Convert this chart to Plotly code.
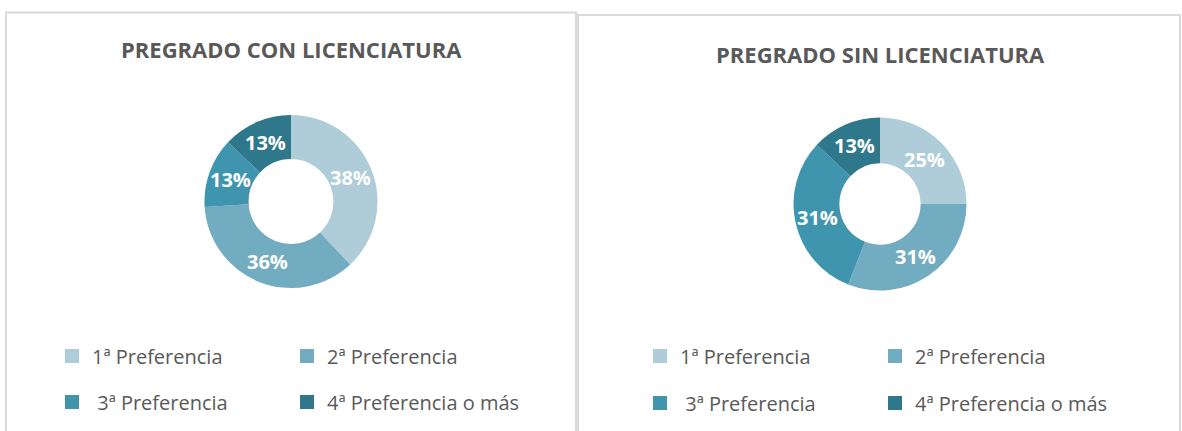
import math
import plotly.graph_objects as go

# ---- data ----
categories = ["1ª Preferencia", "2ª Preferencia", "3ª Preferencia", "4ª Preferencia o más"]
legend_labels = ["1ª Preferencia", "2ª Preferencia", " 3ª Preferencia", "4ª Preferencia o más"]
con_licenciatura = [38, 36, 13, 13]
sin_licenciatura = [25, 31, 31, 13]
panel_titles = ["PREGRADO CON LICENCIATURA", "PREGRADO SIN LICENCIATURA"]

# ---- style ----
W, H = 1182, 431
colors = ["#aecdd9", "#72acc0", "#3f95ad", "#2f778b"]
grey_text = "#595959"
font_family = "Open Sans"


def px_x(x):
    return x / W


def px_y(y):
    return 1 - y / H


fig = go.Figure()

# donut geometry (pixel centres / radii)
donuts = [
    dict(values=con_licenciatura, cx=291, cy=201.5, r=86.5, hole=0.49),
    dict(values=sin_licenciatura, cx=880, cy=204, r=86.5, hole=0.47),
]

annotations = []

for d in donuts:
    fig.add_trace(go.Pie(
        labels=categories,
        values=d["values"],
        hole=d["hole"],
        sort=False,
        direction="clockwise",
        rotation=0,
        textinfo="none",
        marker=dict(colors=colors, line=dict(width=0)),
        showlegend=False,
        hoverinfo="label+percent",
        domain=dict(
            x=[px_x(d["cx"] - d["r"]), px_x(d["cx"] + d["r"])],
            y=[px_y(d["cy"] + d["r"]), px_y(d["cy"] - d["r"])],
        ),
    ))
    # percentage labels, horizontal, centred mid-ring at each slice's mid-angle
    total = sum(d["values"])
    r_mid = d["r"] * (1 + d["hole"]) / 2
    cum = 0
    for v in d["values"]:
        ang = 2 * math.pi * (cum + v / 2) / total
        cum += v
        lx = d["cx"] + r_mid * math.sin(ang)
        ly = d["cy"] - r_mid * math.cos(ang)
        annotations.append(dict(
            text=f"{round(100 * v / total)}%",
            x=px_x(lx), y=px_y(ly), xref="paper", yref="paper",
            xanchor="center", yanchor="middle", showarrow=False,
            font=dict(family=font_family, size=20, color="white", weight="bold"),
        ))

# legends: one horizontal legend per row and panel
legend_rows = [
    # (legend id, category indices, x of first marker centre, y centre)
    ("legend", [0, 1], 72, 356),
    ("legend2", [2, 3], 72, 402),
    ("legend3", [0, 1], 660, 356),
    ("legend4", [2, 3], 660, 403),
]

for lid, idxs, mx, my in legend_rows:
    for i in idxs:
        fig.add_trace(go.Scatter(
            x=[None], y=[None], mode="markers",
            name=legend_labels[i],
            marker=dict(symbol="square", size=14, color=colors[i]),
            legend=lid, showlegend=True, hoverinfo="skip",
        ))

legend_common = dict(
    orientation="h",
    xanchor="left",
    yanchor="middle",
    entrywidth=190,
    entrywidthmode="pixels",
    itemclick=False,
    itemdoubleclick=False,
    bgcolor="rgba(0,0,0,0)",
    font=dict(family=font_family, size=20, color=grey_text),
    itemsizing="trace",
)

layout_legends = {}
for lid, idxs, mx, my in legend_rows:
    layout_legends[lid] = dict(legend_common, x=px_x(mx - 20), y=px_y(my))

# panel frames
shapes = [
    dict(type="rect", xref="paper", yref="paper",
         x0=px_x(6), x1=px_x(576), y0=-0.05, y1=px_y(12.5),
         line=dict(color="#d9d9d9", width=2), layer="below"),
    dict(type="rect", xref="paper", yref="paper",
         x0=px_x(578), x1=px_x(1180), y0=-0.05, y1=px_y(15),
         line=dict(color="#d9d9d9", width=2), layer="below"),
]

annotations += [
    dict(text=panel_titles[0], x=px_x(291), y=px_y(49), xref="paper", yref="paper",
         xanchor="center", yanchor="middle", showarrow=False,
         font=dict(family=font_family, size=22, color=grey_text, weight="bold")),
    dict(text=panel_titles[1], x=px_x(880), y=px_y(54), xref="paper", yref="paper",
         xanchor="center", yanchor="middle", showarrow=False,
         font=dict(family=font_family, size=22, color=grey_text, weight="bold")),
]

fig.update_layout(
    width=W, height=H,
    margin=dict(l=0, r=0, t=0, b=0),
    paper_bgcolor="white",
    plot_bgcolor="white",
    xaxis=dict(visible=False),
    yaxis=dict(visible=False),
    shapes=shapes,
    annotations=annotations,
    **layout_legends,
)

fig.write_html(
    "out.html",
    config={"displayModeBar": False},
    post_script="document.body.style.margin='0';",
)
